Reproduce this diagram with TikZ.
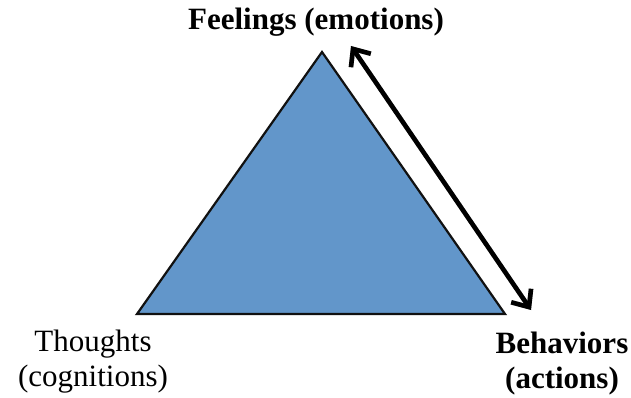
\documentclass[tikz,border=0pt]{standalone}
\usepackage{fontspec}
\setmainfont{Liberation Serif}
\usetikzlibrary{positioning,arrows.meta}
\definecolor{triblue}{HTML}{6296CA}
\definecolor{triline}{HTML}{111111}

\tikzset{
  corner/.style={font=\fontsize{31}{35}\selectfont, align=center, inner sep=0pt},
  cornerbold/.style={corner, font=\fontsize{31}{35}\selectfont\bfseries},
  twoway/.style={{Straight Barb[length=14pt,width=24pt]}-{Straight Barb[length=14pt,width=24pt]}, line width=4.6pt},
}

\begin{document}
\begin{tikzpicture}[x=1pt, y=-1pt]
\useasboundingbox (0,0) rectangle (631,398);
% triangle corners
\coordinate (apex) at (322,52);
\coordinate (bl) at (137,314);
\coordinate (br) at (505,314);
\draw[draw=triline, line width=2.2pt, fill=triblue, line join=miter] (apex) -- (br) -- (bl) -- cycle;
% labels
\node[cornerbold] (feel) at (316,22) {Feelings (emotions)};
\node[corner] (think) at (93,362) {Thoughts\\(cognitions)};
\node[cornerbold] (act) at (562,364) {Behaviors\\(actions)};
% two-way arrow, with its soft shadow
\coordinate (a1) at (351,46);
\coordinate (a2) at (531,310);
\draw[twoway, black!25, xshift=3pt, yshift=-3pt] (a1) -- (a2);
\draw[twoway] (a1) -- (a2);
\end{tikzpicture}
\end{document}
